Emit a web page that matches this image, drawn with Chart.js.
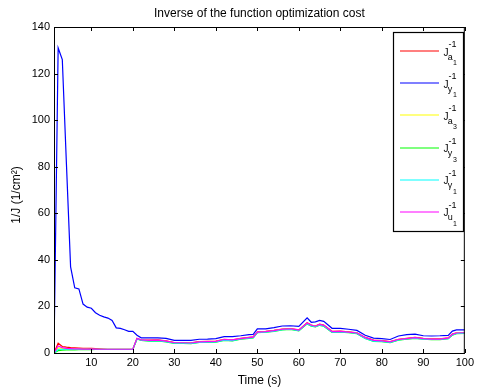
<!DOCTYPE html>
<html>
<head>
<meta charset="utf-8">
<script src="https://cdn.jsdelivr.net/npm/chart.js@4/dist/chart.umd.min.js"></script>
<style>body{margin:0;background:#fff}</style>
</head>
<body>
<canvas id="myChart" width="477" height="387"></canvas>
<script>
// time samples (s)
const times = [1,2,3,4,5,6,7,8,9,10,11,12,13,14,15,16,17,18,19,20,21,22,24,26,28,30,32,34,36,38,40,42,44,46,48,49,50,52,54,56,58,60,62,63,64,65,66,68,70,72,74,76,78,80,82,84,86,88,90,92,94,96,97,98,100];

// 1/J for each cost term
const ja1 = [0,4.2,2.8,2.5,2.3,2.2,2.1,2.0,2.0,2.0,1.9,1.8,1.7,1.6,1.6,1.6,1.6,1.6,1.6,1.6,6.2,5.7,
  5.5,5.6,5.2,4.5,4.5,4.4,4.9,5.0,5.1,5.9,5.7,6.3,6.7,6.9,
  9.1,9.3,9.7,10.3,10.5,9.9,13.0,12.0,11.6,12.4,12.0,
  9.3,9.4,9.1,8.7,6.7,5.5,5.3,4.9,5.9,6.3,6.7,6.3,6.1,6.1,6.5,8.1,8.7,8.8];
const jy1 = [0,131,126,81,37,28,27.5,21,19.7,19.2,17.3,16.2,15.5,15,14,10.8,10.6,10,9.3,9.3,7.6,6.5,
  6.5,6.5,6.3,5.4,5.4,5.4,5.9,6,6.2,7,7,7.4,7.9,8,
  10.4,10.4,10.9,11.6,11.7,11.4,15.1,13.2,13.4,14,13.6,
  10.6,10.6,10.2,9.7,7.6,6.4,6.2,5.8,7.3,7.9,8.1,7.4,7.3,7.4,7.6,9.4,9.9,9.9];
const ja3 = [0,2.2,2.0,1.9,1.8,1.8,1.7,1.7,1.7,1.6,1.6,1.6,1.6,1.6,1.6,1.6,1.6,1.6,1.6,1.6,6.1,5.6,
  5.3,5.4,5.0,4.3,4.3,4.2,4.7,4.8,4.9,5.7,5.5,6.1,6.5,6.7,
  8.9,9.1,9.5,10.1,10.3,9.7,12.8,11.8,11.4,12.2,11.8,
  9.1,9.2,8.9,8.5,6.5,5.3,5.1,4.7,5.7,6.1,6.5,6.1,5.9,5.9,6.3,7.9,8.5,8.6];
const jy3 = [0,1.0,1.2,1.3,1.3,1.3,1.4,1.4,1.4,1.4,1.5,1.5,1.5,1.5,1.5,1.5,1.5,1.5,1.5,1.5,6.0,5.4,
  5.1,5.2,4.8,4.1,4.1,4.0,4.5,4.6,4.7,5.4,5.2,5.9,6.3,6.5,
  8.7,8.9,9.3,9.9,10.1,9.5,12.5,11.5,11.2,11.9,11.5,
  8.9,9.0,8.7,8.3,6.2,5.0,4.9,4.5,5.5,5.9,6.3,5.9,5.7,5.7,6.1,7.7,8.3,8.4];
const jg1 = [0,1.5,1.6,1.6,1.6,1.6,1.6,1.6,1.6,1.6,1.6,1.6,1.6,1.6,1.6,1.6,1.6,1.6,1.6,1.6,6.0,5.5,
  5.2,5.3,4.9,4.2,4.2,4.1,4.6,4.7,4.8,5.5,5.3,6.0,6.4,6.6,
  8.8,9.0,9.4,10.0,10.2,9.6,12.6,11.6,11.3,12.0,11.6,
  9.0,9.1,8.8,8.4,6.3,5.1,5.0,4.6,5.6,6.0,6.4,6.0,5.8,5.8,6.2,7.8,8.4,8.5];
const ju1 = [0,3.0,2.3,2.0,1.9,1.8,1.8,1.7,1.7,1.7,1.7,1.6,1.6,1.6,1.6,1.6,1.6,1.6,1.6,1.6,6.3,5.6,
  5.4,5.5,5.1,4.4,4.4,4.3,4.8,4.9,5.0,5.8,5.6,6.2,6.6,6.8,
  9.0,9.2,9.6,10.2,10.4,9.8,12.9,11.9,11.5,12.3,11.9,
  9.2,9.3,9.0,8.6,6.6,5.4,5.2,4.8,5.8,6.2,6.6,6.2,6.0,6.0,6.4,8.0,8.6,8.7];

const xTicks = [10,20,30,40,50,60,70,80,90,100];
const yTicks = [0,20,40,60,80,100,120,140];

// legend: subscript letter + sub-subscript digit
const subs = [['a','1'],['y','1'],['a','3'],['y','3'],['\u03b3','1'],['u','1']];
const colors = ['#ff0000','#0000ff','#ffff00','#00ff00','#00ffff','#ff00ff'];
const series = [ja1, jy1, ja3, jy3, jg1, ju1];

const FONT = '"Liberation Sans", Arial, Helvetica, sans-serif';

function pts(vals) {
  return times.map((t, i) => ({x: t, y: vals[i]}));
}

const decor = {
  id: 'decor',
  afterDraw(chart) {
    const ctx = chart.ctx;
    const a = chart.chartArea;
    const xs = chart.scales.x, ys = chart.scales.y;
    ctx.save();
    ctx.strokeStyle = '#000';
    ctx.lineWidth = 1;
    ctx.strokeRect(a.left + 0.5, a.top + 0.5, a.right - a.left - 1, a.bottom - a.top);
    ctx.beginPath();
    xs.ticks.forEach(t => {
      const px = Math.round(xs.getPixelForValue(t.value)) + 0.5;
      ctx.moveTo(px, a.bottom); ctx.lineTo(px, a.bottom - 4);
      ctx.moveTo(px, a.top); ctx.lineTo(px, a.top + 4);
    });
    ys.ticks.forEach(t => {
      const py = Math.round(ys.getPixelForValue(t.value)) + 0.5;
      ctx.moveTo(a.left, py); ctx.lineTo(a.left + 4, py);
      ctx.moveTo(a.right, py); ctx.lineTo(a.right - 4, py);
    });
    ctx.stroke();

    // titles
    ctx.fillStyle = '#000';
    ctx.textAlign = 'center';
    ctx.textBaseline = 'alphabetic';
    ctx.font = '12px ' + FONT;
    const cx = (a.left + a.right) / 2;
    ctx.fillText('Inverse of the function optimization cost', cx, 17);
    ctx.fillText('Time (s)', cx, 384);
    ctx.save();
    ctx.translate(19.5, 195);
    ctx.rotate(-Math.PI / 2);
    ctx.fillText('1/J (1/cm\u00b2)', 0, 0);
    ctx.restore();

    // legend box
    ctx.fillStyle = '#fff';
    ctx.fillRect(393, 32, 71, 200);
    ctx.strokeStyle = '#000';
    ctx.lineWidth = 1.2;
    ctx.strokeRect(393.5, 32.5, 70, 199);
    ctx.textAlign = 'left';
    for (let i = 0; i < colors.length; i++) {
      const ly = 51.3 + i * 32.08;
      ctx.beginPath();
      ctx.strokeStyle = colors[i];
      ctx.lineWidth = 1.2;
      ctx.moveTo(400, Math.round(ly));
      ctx.lineTo(439, Math.round(ly));
      ctx.stroke();
      ctx.fillStyle = '#000';
      ctx.font = '10px ' + FONT;
      ctx.fillText('J', 443.5, ly + 4.2);
      ctx.font = '9px ' + FONT;
      ctx.fillText('-1', 448.5, ly - 4);
      ctx.fillText(subs[i][0], 447.7, ly + 8.4);
      ctx.font = '7px ' + FONT;
      ctx.fillText(subs[i][1], 453, ly + 14);
    }
    ctx.restore();
  }
};

const ctx = document.getElementById('myChart').getContext('2d');
const myChart = new Chart(ctx, {
  type: 'line',
  data: {
    datasets: series.map((s, i) => ({
      data: pts(s),
      borderColor: colors[i],
      borderWidth: 1.2,
      pointRadius: 0,
      fill: false,
      tension: 0,
      order: colors.length - i
    }))
  },
  options: {
    responsive: false,
    animation: false,
    layout: {padding: {left: 0, right: 9, top: 27, bottom: 0}},
    plugins: {legend: {display: false}, tooltip: {enabled: false}},
    scales: {
      x: {
        type: 'linear', min: 1, max: 100,
        afterBuildTicks: s => { s.ticks = xTicks.map(v => ({value: v})); },
        afterFit: s => { s.height = 34; },
        grid: {display: false, drawTicks: false},
        border: {display: false},
        ticks: {color: '#000', padding: 3, maxRotation: 0, autoSkip: false, font: {family: FONT, size: 11}}
      },
      y: {
        min: 0, max: 140,
        afterBuildTicks: s => { s.ticks = yTicks.map(v => ({value: v})); },
        afterFit: s => { s.width = 54; },
        grid: {display: false, drawTicks: false},
        border: {display: false},
        ticks: {color: '#000', padding: 4, font: {family: FONT, size: 11}}
      }
    }
  },
  plugins: [decor]
});
</script>
</body>
</html>
